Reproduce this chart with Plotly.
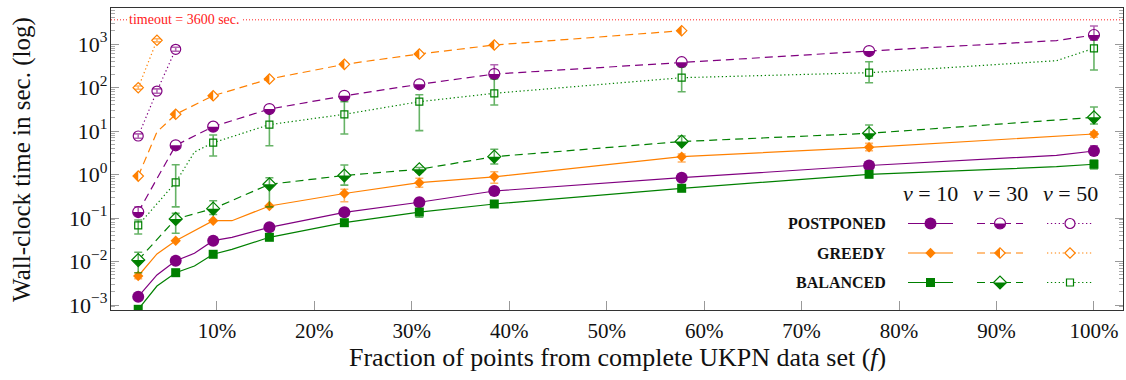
import math
import plotly.graph_objects as go

# ---------------- data ----------------
TOTAL_WEEKS = 52
WEEKS = [1, 2, 3, 4, 5, 6, 8, 12, 16, 20, 30, 40, 50, 52]
MARKER_WEEKS = [1, 3, 5, 8, 12, 16, 20, 30, 40, 52]
SHORT_MARKER_WEEKS = [1, 2, 3]

N = None
POSTPONED_V10 = [0.00155, 0.0049, 0.0104, 0.0154, 0.0301, 0.036, 0.061, 0.135, 0.23, 0.418, 0.844, 1.61, 2.76, 3.47]
GREEDY_V10 = [0.00464, 0.0149, 0.030, 0.051, 0.0867, 0.0867, 0.189, 0.366, 0.648, 0.885, 2.57, 4.22, 7.67, 8.53]
BALANCED_V10 = [0.000796, 0.00273, 0.00553, 0.00788, 0.01465, 0.019, 0.036, 0.078, 0.137, 0.21, 0.482, 1.01, 1.51, 1.72]
POSTPONED_V30 = [0.137, 0.83, 4.69, N, 12.6, N, 32, 64.4, 118.5, 204, 382, 690, 1202, 1610]
GREEDY_V30 = [0.92, 9.5, 24.2, N, 64.8, N, 157, 341, 589, 948, 2024, N, N, N]
BALANCED_V30 = [0.0108, 0.032, 0.095, N, 0.164, N, 0.595, 0.95, 1.32, 2.57, 5.73, 8.86, 18.4, 20.6]
POSTPONED_V50 = [7.67, 83, 755, N, N, N, N, N, N, N, N, N, N, N]
GREEDY_V50 = [99, 1217, N, N, N, N, N, N, N, N, N, N, N, N]
BALANCED_V50 = [0.068, 0.21, 0.66, 3.29, 5.38, N, 14.0, 24.2, 47.2, 73.6, 168, 219, 413, 797]

# error bar bounds (upper / lower), aligned with WEEKS
POSTPONED_V10_HI = [N, N, N, N, N, N, N, N, 0.27, N, N, N, N, 4.6]
POSTPONED_V10_LO = [N, N, N, N, N, N, N, N, 0.20, N, N, N, N, 2.8]
GREEDY_V10_HI = [0.0055, N, N, N, N, N, N, 0.457, 0.818, 1.16, 2.96, 5.2, N, 9.65]
GREEDY_V10_LO = [0.0040, N, N, N, N, N, N, 0.237, 0.508, 0.628, 1.94, 3.52, N, 7.16]
BALANCED_V10_HI = [N, N, N, N, N, N, N, N, 0.16, N, N, N, N, 2.15]
BALANCED_V10_LO = [N, N, N, N, N, N, N, N, 0.104, N, N, N, N, 1.34]
POSTPONED_V30_HI = [0.18, N, N, N, N, N, N, N, N, 334, N, N, N, 2593]
POSTPONED_V30_LO = [0.12, N, N, N, N, N, N, N, N, 180, N, N, N, 1230]
GREEDY_V30_HI = [N] * 14
GREEDY_V30_LO = [N] * 14
BALANCED_V30_HI = [0.0163, N, 0.128, N, 0.25, N, 0.84, 1.65, 1.45, 3.8, 7.67, 13.7, N, 35.6]
BALANCED_V30_LO = [0.0055, N, 0.0445, N, 0.12, N, 0.18, 0.57, 1.15, 1.74, 4.95, 6.9, N, 14.5]
POSTPONED_V50_HI = [8.6, 93, 840, N, N, N, N, N, N, N, N, N, N, N]
POSTPONED_V50_LO = [6.8, 74, 680, N, N, N, N, N, N, N, N, N, N, N]
GREEDY_V50_HI = [108, 1320, N, N, N, N, N, N, N, N, N, N, N, N]
GREEDY_V50_LO = [91, 1120, N, N, N, N, N, N, N, N, N, N, N, N]
BALANCED_V50_HI = [0.09, N, 1.68, N, 8.09, N, 30.4, 47.2, 68.3, 157, 301, 392, N, 1500]
BALANCED_V50_LO = [0.043, N, 0.18, N, 2.66, N, 4.59, 8.53, 10.2, 39.6, 80, 129, N, 253]

ALGORITHMS = ["POSTPONED", "GREEDY", "BALANCED"]
V_VALUES = [10, 30, 50]
TIMEOUT_SEC = 3600

X_TICK_VALUES = [10, 20, 30, 40, 50, 60, 70, 80, 90, 100]
X_TICK_LABELS = ["10%", "20%", "30%", "40%", "50%", "60%", "70%", "80%", "90%", "100%"]
Y_TICK_VALUES = [1e-3, 1e-2, 1e-1, 1e0, 1e1, 1e2, 1e3]
Y_TICK_LABELS = ["10<sup>\u22123</sup>", "10<sup>\u22122</sup>", "10<sup>\u22121</sup>",
                 "10<sup>0</sup>", "10<sup>1</sup>", "10<sup>2</sup>", "10<sup>3</sup>"]

# ---------------- styles ----------------
PURPLE = "#800080"
ORANGE = "#ff8000"
GREEN = "#008000"
FONT = "Liberation Serif"
DASHES = {10: "solid", 30: "8px,5px", 50: "1.3px,2.6px"}


def rgba(hexc, a):
    h = hexc.lstrip("#")
    return "rgba(%d,%d,%d,%.2f)" % (int(h[0:2], 16), int(h[2:4], 16), int(h[4:6], 16), a)


SERIES = [
    dict(alg="POSTPONED", v=10, y=POSTPONED_V10, hi=POSTPONED_V10_HI, lo=POSTPONED_V10_LO, color=PURPLE,
         symbol="circle", size=12, fill="solid", marks=MARKER_WEEKS),
    dict(alg="GREEDY", v=10, y=GREEDY_V10, hi=GREEDY_V10_HI, lo=GREEDY_V10_LO, color=ORANGE,
         symbol="diamond", size=8, fill="solid", marks=MARKER_WEEKS),
    dict(alg="BALANCED", v=10, y=BALANCED_V10, hi=BALANCED_V10_HI, lo=BALANCED_V10_LO, color=GREEN,
         symbol="square", size=9, fill="solid", marks=MARKER_WEEKS),
    dict(alg="POSTPONED", v=30, y=POSTPONED_V30, hi=POSTPONED_V30_HI, lo=POSTPONED_V30_LO, color=PURPLE,
         symbol="circle", size=11, fill="half-bottom", marks=MARKER_WEEKS),
    dict(alg="GREEDY", v=30, y=GREEDY_V30, hi=GREEDY_V30_HI, lo=GREEDY_V30_LO, color=ORANGE,
         symbol="diamond", size=8, fill="half-left", marks=MARKER_WEEKS),
    dict(alg="BALANCED", v=30, y=BALANCED_V30, hi=BALANCED_V30_HI, lo=BALANCED_V30_LO, color=GREEN,
         symbol="diamond", size=10, fill="half-bottom", marks=MARKER_WEEKS),
    dict(alg="POSTPONED", v=50, y=POSTPONED_V50, hi=POSTPONED_V50_HI, lo=POSTPONED_V50_LO, color=PURPLE,
         symbol="circle", size=10, fill="open", marks=SHORT_MARKER_WEEKS),
    dict(alg="GREEDY", v=50, y=GREEDY_V50, hi=GREEDY_V50_HI, lo=GREEDY_V50_LO, color=ORANGE,
         symbol="diamond", size=8, fill="open", marks=SHORT_MARKER_WEEKS),
    dict(alg="BALANCED", v=50, y=BALANCED_V50, hi=BALANCED_V50_HI, lo=BALANCED_V50_LO, color=GREEN,
         symbol="square", size=7, fill="open", marks=MARKER_WEEKS),
]

K = 0.5523


def half_path(symbol, size, fill):
    r = size / 2.0
    if symbol == "circle":
        r -= 0.2
        return ("M%.2f,0 C%.2f,%.2f %.2f,%.2f 0,%.2f C%.2f,%.2f %.2f,%.2f %.2f,0 Z"
                % (-r, -r, -K * r, -K * r, -r, -r, K * r, -r, r, -K * r, r))
    rd = r * 1.3
    if fill == "half-left":
        return "M0,%.2f L%.2f,0 L0,%.2f Z" % (rd, -rd, -rd)
    return "M%.2f,0 L%.2f,0 L0,%.2f Z" % (-rd, rd, -rd)


def marker_style(s):
    if s["fill"] == "solid":
        return dict(symbol=s["symbol"], size=s["size"], color=s["color"], line=dict(width=0))
    return dict(symbol=s["symbol"], size=s["size"], color="white", line=dict(color=s["color"], width=1.2))


fig = go.Figure()
shapes = []

for s in SERIES:
    fx = [w / TOTAL_WEEKS * 100 for w in WEEKS]
    lx = [fx[i] for i, v in enumerate(s["y"]) if v is not None]
    ly = [v for v in s["y"] if v is not None]
    fig.add_trace(go.Scatter(x=lx, y=ly, mode="lines", hoverinfo="skip", showlegend=False,
                             line=dict(color=s["color"], width=1.2, dash=DASHES[s["v"]])))

for s in SERIES:
    fx = [w / TOTAL_WEEKS * 100 for w in WEEKS]
    idx = [i for i, w in enumerate(WEEKS) if w in s["marks"] and s["y"][i] is not None]
    mx = [fx[i] for i in idx]
    my = [s["y"][i] for i in idx]
    fig.add_trace(go.Scatter(x=mx, y=my, mode="markers", hoverinfo="skip", showlegend=False,
                             marker=marker_style(s)))
    eidx = [i for i in idx if s["hi"][i] is not None]
    if eidx:
        fig.add_trace(go.Scatter(
            x=[fx[i] for i in eidx], y=[s["y"][i] for i in eidx], mode="markers",
            marker=dict(size=1, opacity=0), hoverinfo="skip", showlegend=False,
            error_y=dict(type="data", symmetric=False,
                         array=[s["hi"][i] - s["y"][i] for i in eidx],
                         arrayminus=[s["y"][i] - s["lo"][i] for i in eidx],
                         color=rgba(s["color"], 0.6), thickness=1.6, width=4)))
    if s["fill"].startswith("half"):
        p = half_path(s["symbol"], s["size"], s["fill"])
        for xv, yv in zip(mx, my):
            shapes.append(dict(type="path", xref="x", yref="y", xsizemode="pixel", ysizemode="pixel",
                               xanchor=xv, yanchor=yv, path=p, fillcolor=s["color"], line=dict(width=0)))

# ---------------- legend (overlay axes in pixel units) ----------------
ROW_Y = {"POSTPONED": 223.5, "GREEDY": 253, "BALANCED": 282.5}
COL_X = {10: (908, 953), 30: (977, 1023), 50: (1047, 1093)}
for s in SERIES:
    x0, x1 = COL_X[s["v"]]
    yy = ROW_Y[s["alg"]]
    xm = (x0 + x1) / 2.0
    fig.add_trace(go.Scatter(x=[x0, x1], y=[yy, yy], xaxis="x2", yaxis="y2", mode="lines",
                             hoverinfo="skip", showlegend=False,
                             line=dict(color=s["color"], width=1.2, dash=DASHES[s["v"]])))
    fig.add_trace(go.Scatter(x=[xm], y=[yy], xaxis="x2", yaxis="y2", mode="markers",
                             hoverinfo="skip", showlegend=False, marker=marker_style(s)))
    if s["fill"].startswith("half"):
        shapes.append(dict(type="path", xref="x2", yref="y2", xsizemode="pixel", ysizemode="pixel",
                           xanchor=xm, yanchor=yy, path=half_path(s["symbol"], s["size"], s["fill"]),
                           fillcolor=s["color"], line=dict(width=0)))

annotations = []
for alg in ALGORITHMS:
    annotations.append(dict(xref="x2", yref="y2", x=888, y=ROW_Y[alg], xanchor="right", yanchor="middle",
                            text="<b>%s</b>" % alg, showarrow=False,
                            font=dict(family=FONT, size=16, color="#111")))
for v in V_VALUES:
    x0, x1 = COL_X[v]
    annotations.append(dict(xref="x2", yref="y2", x=(x0 + x1) / 2.0, y=193, xanchor="center", yanchor="middle",
                            text="<i>v</i> = %d" % v, showarrow=False,
                            font=dict(family=FONT, size=22, color="#111")))

# timeout line + label
shapes.append(dict(type="line", xref="paper", x0=0, x1=1, yref="y", y0=TIMEOUT_SEC, y1=TIMEOUT_SEC,
                   line=dict(color="#ff2020", width=1, dash="1px,2px")))
annotations.append(dict(xref="paper", yref="y", x=0.016, y=math.log10(TIMEOUT_SEC), xanchor="left",
                        yanchor="middle", text="timeout = %d sec." % TIMEOUT_SEC, showarrow=False,
                        bgcolor="white", borderpad=1, font=dict(family=FONT, size=14, color="#ff2020")))

# axis titles
annotations.append(dict(xref="paper", yref="paper", x=0.5, y=-0.158, xanchor="center", yanchor="middle",
                        text="Fraction of points from complete UKPN data set (<i>f</i>)", showarrow=False,
                        font=dict(family=FONT, size=26, color="#111")))
annotations.append(dict(xref="paper", yref="paper", x=-0.088, y=0.5, xanchor="center", yanchor="middle",
                        textangle=-90, text="Wall-clock time in sec. (log)", showarrow=False,
                        font=dict(family=FONT, size=25, color="#111")))

minor_vals = [k * 10 ** p for p in range(-4, 4) for k in range(2, 10)]

fig.update_layout(
    width=1126, height=380,
    margin=dict(l=111, r=3, t=8, b=70),
    paper_bgcolor="white", plot_bgcolor="white",
    font=dict(family=FONT, color="#111"),
    hovermode=False,
    shapes=shapes, annotations=annotations,
    xaxis=dict(range=[-0.87, 102.98], tickmode="array", tickvals=X_TICK_VALUES, ticktext=X_TICK_LABELS,
               ticks="inside", ticklen=9, tickwidth=1, tickcolor="#999", showgrid=False, zeroline=False,
               showline=True, linecolor="#333", linewidth=1.3, mirror=True, ticklabelstandoff=2,
               tickfont=dict(family=FONT, size=21, color="#111")),
    yaxis=dict(type="log", range=[-3.115, 3.828], tickmode="array", tickvals=Y_TICK_VALUES,
               ticktext=Y_TICK_LABELS, ticks="inside", ticklen=8, tickwidth=1, tickcolor="#999",
               showgrid=False, zeroline=False, showline=True, linecolor="#333", linewidth=1.3,
               mirror="allticks", tickfont=dict(family=FONT, size=22, color="#111"),
               ticklabelstandoff=-2,
               minor=dict(tickmode="array", tickvals=minor_vals, ticks="inside", ticklen=4,
                          tickcolor="#aaa", showgrid=False)),
    xaxis2=dict(overlaying="x", anchor="y2", range=[111, 1123], visible=False, fixedrange=True),
    yaxis2=dict(overlaying="y", anchor="x2", range=[310, 8], visible=False, fixedrange=True),
)

fig.write_html("out.html", config={"displayModeBar": False},
               post_script="document.body.style.margin='0';document.body.style.overflow='hidden';")
